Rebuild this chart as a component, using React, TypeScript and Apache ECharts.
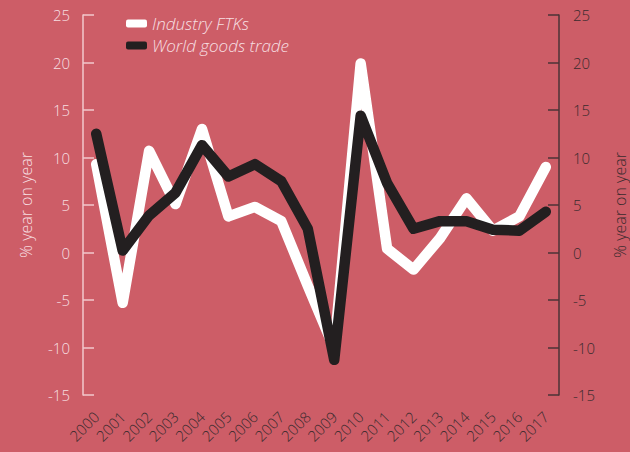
import React, { useEffect, useRef } from "react";
import * as echarts from "echarts";

const years = ["2000","2001","2002","2003","2004","2005","2006","2007","2008","2009","2010","2011","2012","2013","2014","2015","2016","2017"];
const industryFTKs = [9.3, -5.3, 10.7, 5.1, 13.0, 3.8, 4.8, 3.3, -3.5, -10.1, 19.9, 0.4, -1.8, 1.5, 5.7, 2.3, 3.8, 9.0];
const worldGoodsTrade = [12.5, 0.2, 3.9, 6.3, 11.3, 8.0, 9.3, 7.5, 2.5, -11.3, 14.4, 7.3, 2.5, 3.3, 3.3, 2.4, 2.3, 4.3];
const yTicks = { min: -15, max: 25, interval: 5 };
const seriesNames = ["Industry FTKs", "World goods trade"];

const FONT = "'Open Sans', Lato, sans-serif";
const LIGHT = "#f7dfe1";
const DARK = "#3a2b2e";

export default function App() {
  const ref = useRef<HTMLDivElement>(null);
  useEffect(() => {
    document.body.style.margin = "0";
    const chart = echarts.init(ref.current!, null, { renderer: "svg" });
    chart.setOption({
      animation: false,
      backgroundColor: "#cd5d67",
      grid: { left: 83, right: 71, top: 15, bottom: 57, containLabel: false, outerBoundsMode: "none" },
      legend: {
        orient: "vertical",
        left: 121,
        top: 10,
        itemWidth: 21,
        itemHeight: 8,
        itemGap: 5,
        icon: "roundRect",
        data: seriesNames,
        textStyle: { color: LIGHT, fontStyle: "italic", fontWeight: 300, fontSize: 17, fontFamily: FONT },
      },
      xAxis: {
        type: "category",
        data: years,
        boundaryGap: true,
        axisLine: { show: false },
        axisTick: { show: false },
        axisLabel: { interval: 0, rotate: 45, margin: 19, color: DARK, fontSize: 15, fontWeight: 300, fontFamily: FONT },
      },
      yAxis: [
        {
          type: "value",
          position: "left",
          min: yTicks.min,
          max: yTicks.max,
          interval: yTicks.interval,
          name: "% year on year",
          nameLocation: "middle",
          nameRotate: 90,
          nameGap: 49,
          nameTextStyle: { color: LIGHT, fontSize: 16, fontWeight: 300, fontFamily: FONT },
          axisLine: { show: true, lineStyle: { color: "#f2c9cd", width: 1.5 } },
          axisTick: { show: true, inside: true, length: 11, lineStyle: { color: "#f2c9cd", width: 1.5 } },
          axisLabel: { color: LIGHT, fontSize: 15, fontWeight: 300, margin: 13, fontFamily: FONT },
          splitLine: { show: false },
        },
        {
          type: "value",
          position: "right",
          min: yTicks.min,
          max: yTicks.max,
          interval: yTicks.interval,
          name: "% year on year",
          nameLocation: "middle",
          nameRotate: 90,
          nameGap: 53,
          nameTextStyle: { color: DARK, fontSize: 16, fontWeight: 300, fontFamily: FONT },
          axisLine: { show: true, lineStyle: { color: "#4a3336", width: 1.5 } },
          axisTick: { show: true, inside: true, length: 11, lineStyle: { color: "#4a3336", width: 1.5 } },
          axisLabel: { color: DARK, fontSize: 15, fontWeight: 300, margin: 14, fontFamily: FONT },
          splitLine: { show: false },
        },
      ],
      series: [
        {
          name: seriesNames[0],
          type: "line",
          data: industryFTKs,
          symbol: "none",
          itemStyle: { color: "#ffffff" },
          lineStyle: { color: "#ffffff", width: 10.5, cap: "round", join: "round" },
        },
        {
          name: seriesNames[1],
          type: "line",
          data: worldGoodsTrade,
          symbol: "none",
          itemStyle: { color: "#231f20" },
          lineStyle: { color: "#231f20", width: 10.5, cap: "round", join: "round" },
        },
      ],
    });
    return () => chart.dispose();
  }, []);
  return <div ref={ref} style={{ position: "absolute", left: 0, top: 0, width: 630, height: 452 }} />;
}
